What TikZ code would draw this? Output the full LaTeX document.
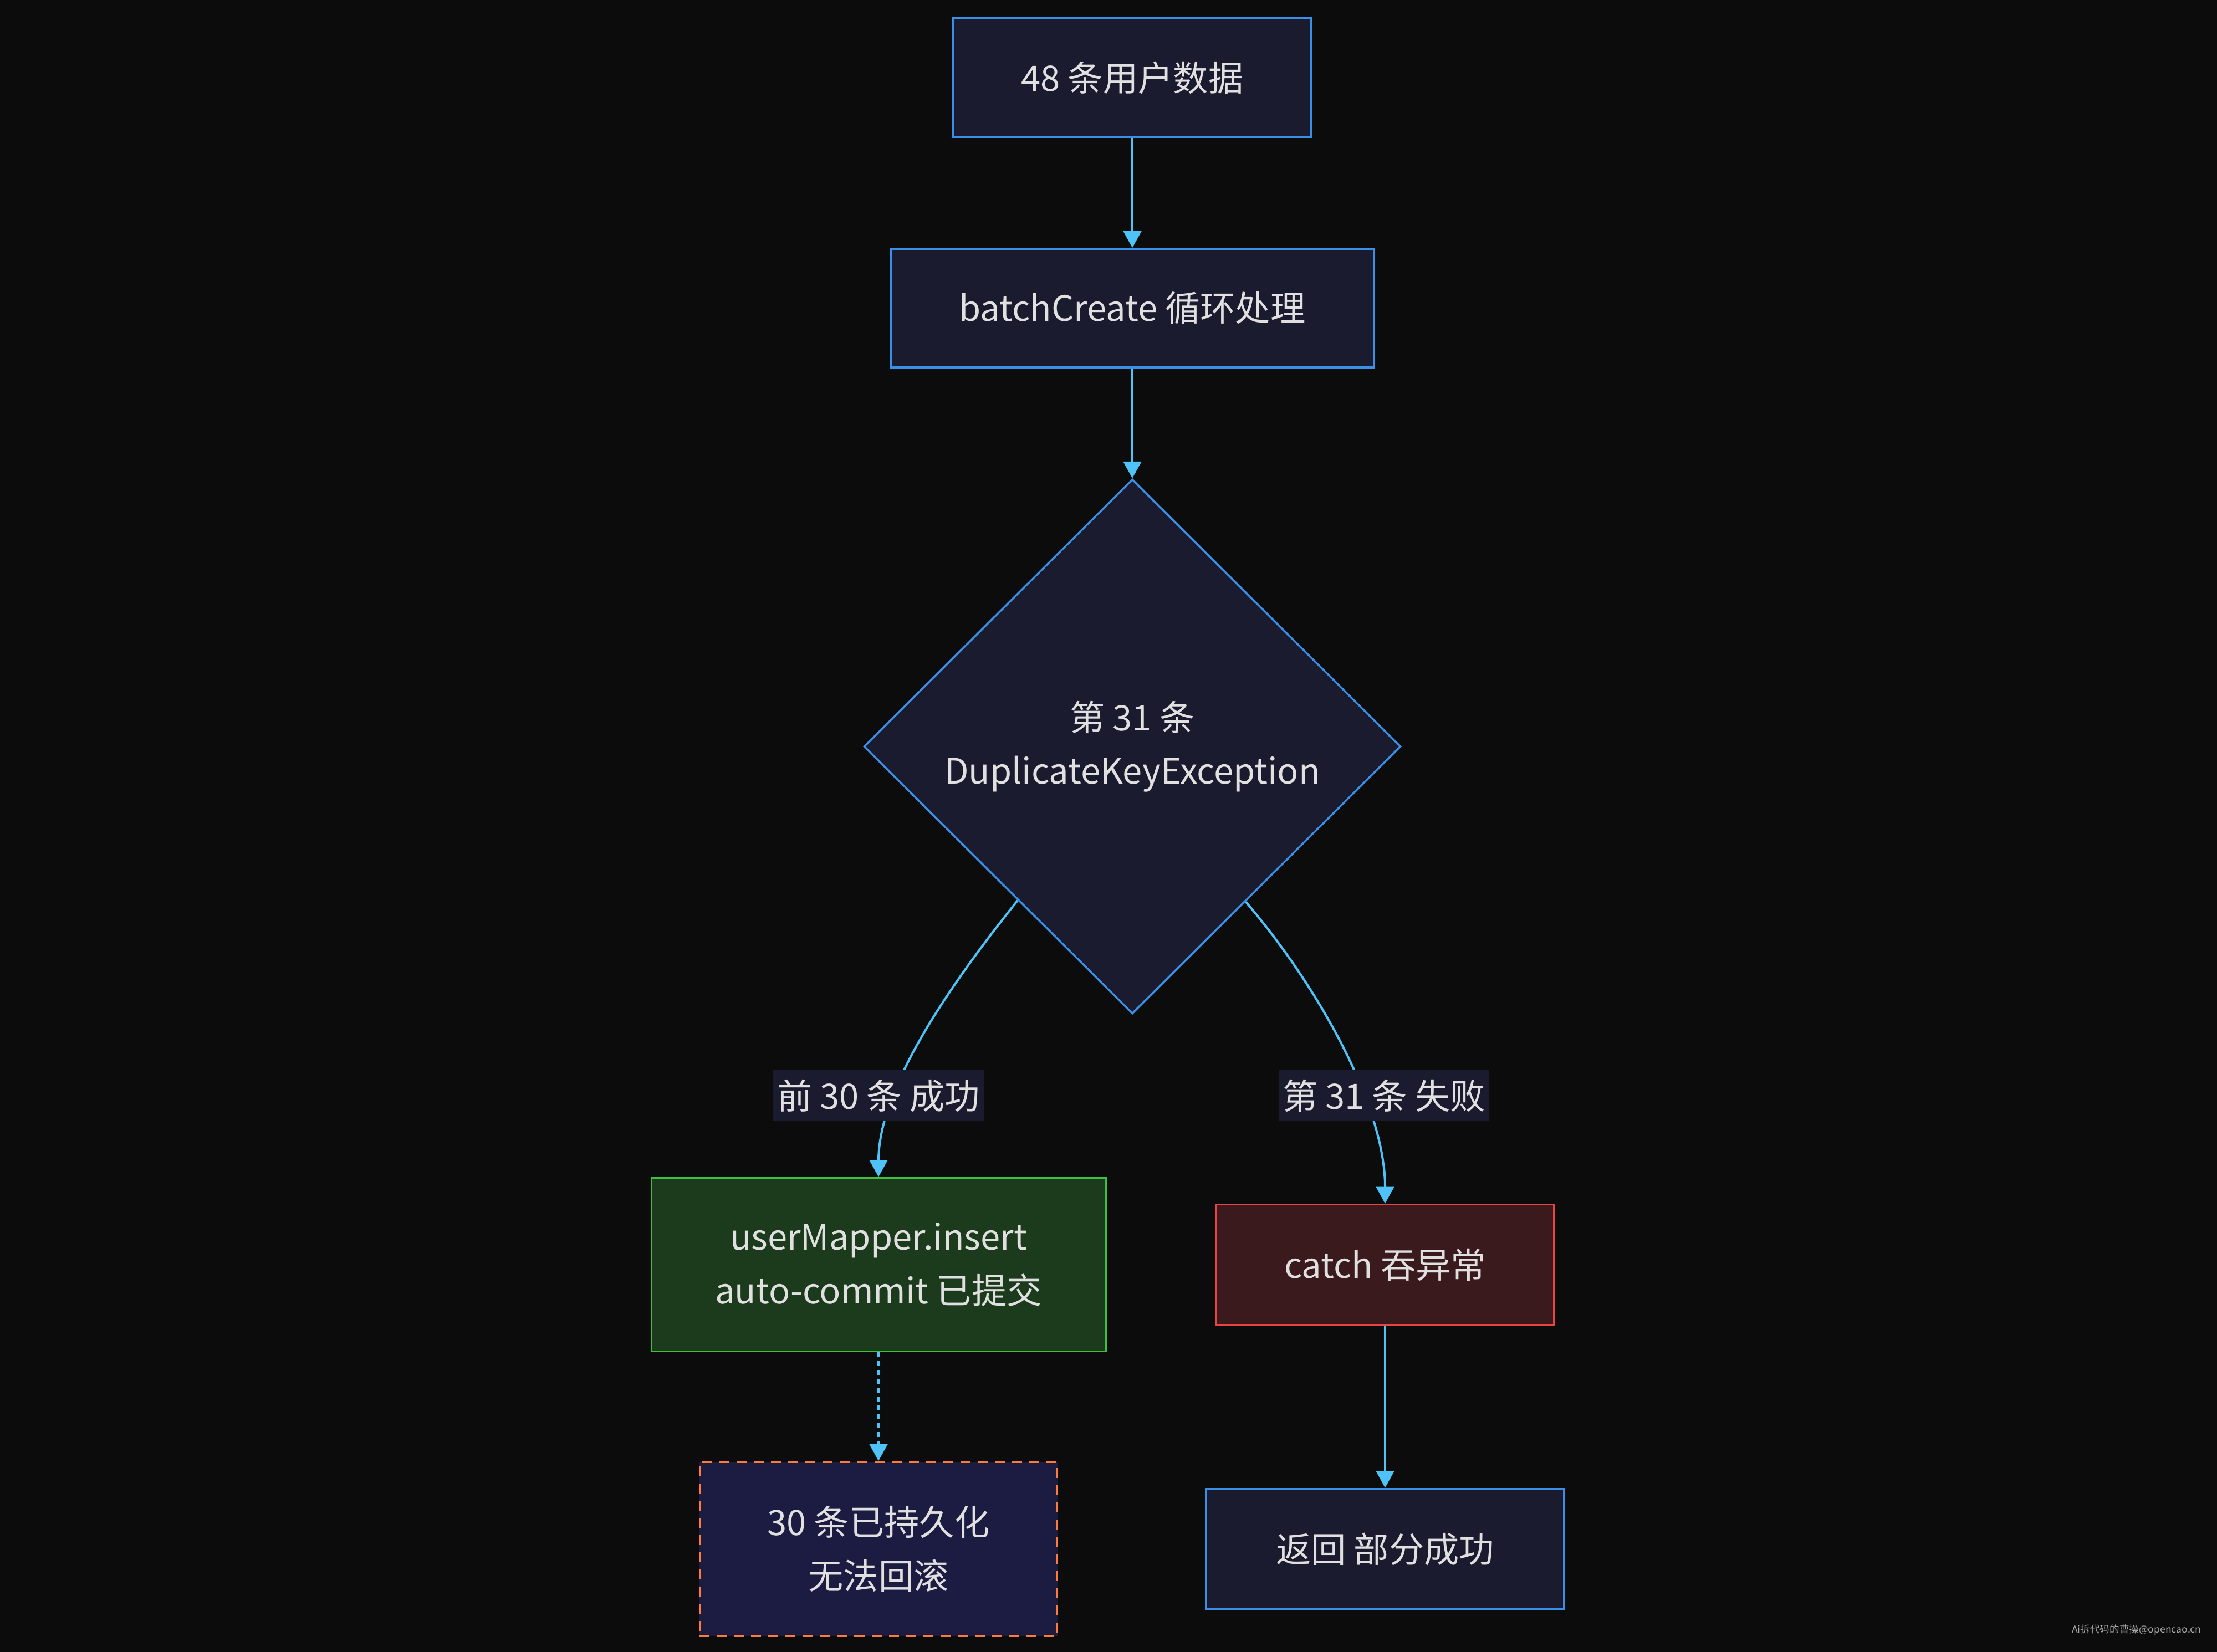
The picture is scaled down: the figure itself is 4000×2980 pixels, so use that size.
\documentclass[tikz,border=0pt]{standalone}
\usepackage{fontspec}
\setmainfont{Noto Sans CJK SC}
\usetikzlibrary{shapes.geometric,arrows.meta,calc}
\definecolor{bgc}{HTML}{0C0C0C}
\definecolor{nodefill}{HTML}{1A1B2E}
\definecolor{blueline}{HTML}{3A8FE6}
\definecolor{arrowc}{HTML}{4FC3F7}
\definecolor{txt}{HTML}{E0E0E0}
\definecolor{greenfill}{HTML}{1C3A1C}
\definecolor{greenline}{HTML}{3FBF3F}
\definecolor{redfill}{HTML}{3B1A1E}
\definecolor{redline}{HTML}{E84444}
\definecolor{dashfill}{HTML}{1C1C42}
\definecolor{orangeline}{HTML}{FF7B3A}
\definecolor{wm}{HTML}{A8A8A8}
\tikzset{
  base/.style={font=\fontsize{18}{27.5}\selectfont, text=txt, align=center, inner sep=0pt, line width=0.035cm},
  bluebox/.style={base, rectangle, draw=blueline, fill=nodefill},
  decision/.style={base, diamond, draw=blueline, fill=nodefill, minimum width=9.68cm, minimum height=9.64cm},
  okbox/.style={base, rectangle, draw=greenline, fill=greenfill},
  errbox/.style={base, rectangle, draw=redline, fill=redfill},
  warnbox/.style={base, rectangle, draw=orangeline, fill=dashfill, dash pattern=on 0.18cm off 0.13cm},
  edgelabel/.style={font=\fontsize{18}{27.5}\selectfont, text=txt, fill=nodefill, inner sep=0pt, minimum width=3.8cm, minimum height=0.92cm},
  flow/.style={draw=arrowc, line width=0.04cm, -{Triangle[width=0.32cm,length=0.3cm]}},
  flowdot/.style={flow, dash pattern=on 0.09cm off 0.07cm}
}
\begin{document}
\begin{tikzpicture}[x=0.01cm,y=-0.01cm]
\useasboundingbox (0,0) rectangle (4000,2980);
\fill[bgc] (-20,-20) rectangle (4020,3000);

\node[bluebox, minimum width=6.46cm, minimum height=2.14cm] (n1) at (2043,140) {48 条用户数据};
\node[bluebox, minimum width=8.70cm, minimum height=2.14cm] (n2) at (2043,556) {batchCreate 循环处理};
\node[decision] (d) at (2043,1347) {第 31 条\\DuplicateKeyException};
\node[okbox, minimum width=8.19cm, minimum height=3.13cm] (ok) at (1585,2282) {userMapper.insert\\auto-commit 已提交};
\node[errbox, minimum width=6.10cm, minimum height=2.17cm] (err) at (2499,2282) {catch 吞异常};
\node[warnbox, minimum width=6.45cm, minimum height=3.14cm] (warn) at (1585,2795) {30 条已持久化\\无法回滚};
\node[bluebox, minimum width=6.45cm, minimum height=2.17cm] (ret) at (2499,2795) {返回 部分成功};

\draw[flow] (n1) -- (n2);
\draw[flow] (n2) -- (d.north);
\coordinate (dl) at ($(d.west)!0.574!(d.south)$);
\coordinate (dr) at ($(d.east)!0.579!(d.south)$);
\draw[flow] (dl) .. controls (1720,1770) and (1585,1960) .. (ok.north);
\draw[flow] (dr) .. controls (2370,1770) and (2499,1990) .. (err.north);
\draw[flowdot] (ok) -- (warn);
\draw[flow] (err) -- (ret);

\node[edgelabel] (l1) at (1585,1977) {前 30 条 成功};
\node[edgelabel] (l2) at (2497,1977) {第 31 条 失败};

\node[font=\fontsize{5}{6}\selectfont, text=wm, anchor=east, inner sep=0pt] (wmk) at (3972,2941) {Ai拆代码的曹操@opencao.cn};
\end{tikzpicture}
\end{document}
